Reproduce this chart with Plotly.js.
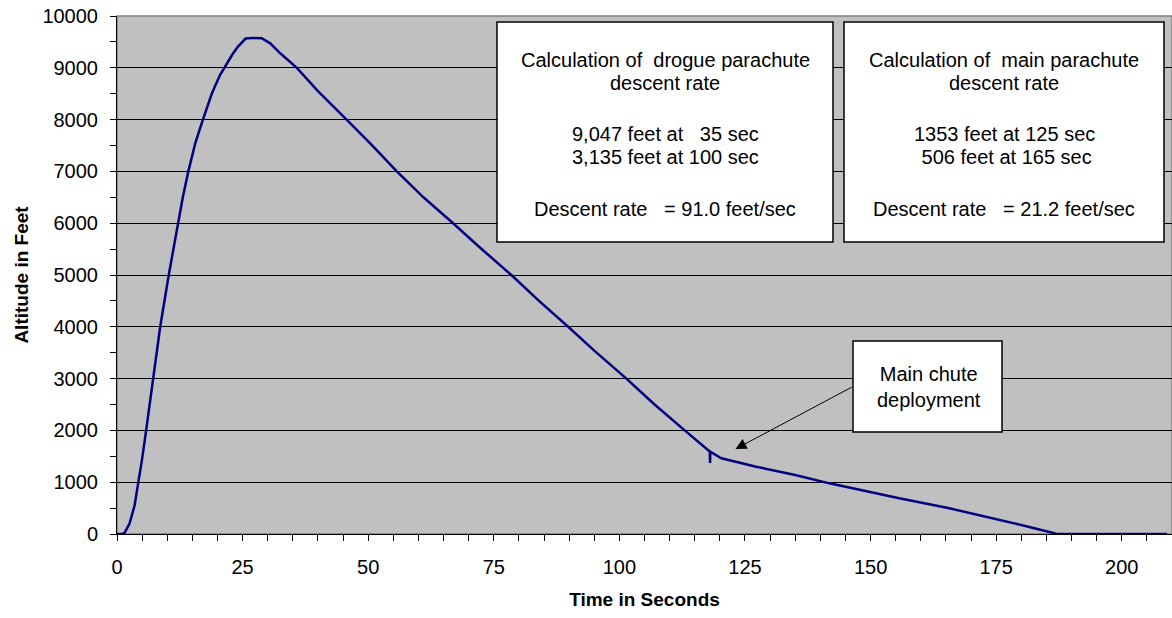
<!DOCTYPE html>
<html>
<head>
<meta charset="utf-8">
<script src="https://cdn.plot.ly/plotly-3.0.1.min.js"></script>
<style>html,body{margin:0;padding:0;background:#fff;}#chart{width:1172px;height:618px;}</style>
</head>
<body>
<div id="chart"></div>
<script>
// Flight data: time (s) and altitude (ft)
const timeSec = [0, 1, 1.5, 2.5, 3.5, 4.3, 5.0, 5.8, 7.2, 8.6, 10.3, 12.1, 13.1, 14.2, 15.6, 17.1, 18.9, 20.5, 21.8, 22.9, 24.0, 24.9, 25.6, 27, 28.8, 30.5, 32.5, 35.8, 40, 45.7, 50.4, 55.7, 61, 66.9, 72, 78.5, 84, 89.8, 95, 101.4, 107, 113.0, 116, 118, 118.05, 118.1, 120.3, 121.9, 125, 127.2, 135, 141.8, 150, 155.7, 165.7, 175, 181, 186.2, 187, 209];
const altitudeFt = [0, 0, 20, 200, 550, 1000, 1450, 2000, 3000, 4000, 5000, 6000, 6500, 7000, 7550, 8000, 8508, 8860, 9080, 9247, 9400, 9504, 9565, 9575, 9570, 9473, 9280, 9000, 8550, 8000, 7542, 7000, 6500, 6000, 5550, 5000, 4500, 4000, 3540, 3000, 2500, 2000, 1760, 1590, 1370, 1590, 1461, 1429, 1353, 1300, 1140, 978, 800, 689, 496, 290, 150, 25, 0, 0];

const xTickVals = [0, 25, 50, 75, 100, 125, 150, 175, 200];
const yTickVals = [0, 1000, 2000, 3000, 4000, 5000, 6000, 7000, 8000, 9000, 10000];

const drogueLines = ["Calculation of\u00A0\u00A0drogue parachute", "descent rate", "9,047 feet at \u00A0\u00A035 sec", "3,135 feet at 100 sec", "Descent rate \u00A0\u00A0= 91.0 feet/sec"];
const mainLines = ["Calculation of\u00A0\u00A0main parachute", "descent rate", "1353 feet at 125 sec", "\u00A0506 feet at 165 sec", "Descent rate \u00A0\u00A0= 21.2 feet/sec"];
const calloutText = "Main chute<br>deployment";
const deployTime = 123.1, deployAlt = 1640;

const FONT = "Arial, 'Liberation Sans', sans-serif";
const FS = 20;

// layout geometry (paper fractions)
const L = 117, T = 16, W = 1055, H = 518;
const px2x = p => (p - L) / W;
const py2y = p => (T + H - p) / H;

const lineY = [60, 83, 134, 157, 209];
const annotations = [];
drogueLines.forEach((t, i) => annotations.push({xref: 'paper', yref: 'paper', x: px2x(665), y: py2y(lineY[i]), text: t, showarrow: false, xanchor: 'center', yanchor: 'middle', font: {family: FONT, size: FS, color: '#000'}}));
mainLines.forEach((t, i) => annotations.push({xref: 'paper', yref: 'paper', x: px2x(1004), y: py2y(lineY[i]), text: t, showarrow: false, xanchor: 'center', yanchor: 'middle', font: {family: FONT, size: FS, color: '#000'}}));
annotations.push({xref: 'paper', yref: 'paper', x: px2x(929), y: py2y(386.5), text: calloutText, showarrow: false, xanchor: 'center', yanchor: 'middle', font: {family: FONT, size: FS, color: '#000'}});
annotations.push({xref: 'x', yref: 'y', x: deployTime, y: deployAlt, text: '', showarrow: true, arrowhead: 2, arrowsize: 2.2, arrowwidth: 1, arrowcolor: '#000', axref: 'pixel', ayref: 'pixel', ax: 117.7, ay: -62.6, standoff: 0});

const shapes = [
  {type: 'rect', xref: 'paper', yref: 'paper', x0: 0, x1: 1, y0: 0, y1: 1, line: {color: '#808080', width: 1.5}, fillcolor: 'rgba(0,0,0,0)', layer: 'below'},
  {type: 'rect', xref: 'paper', yref: 'paper', x0: px2x(497), x1: px2x(833), y0: py2y(242), y1: py2y(22), line: {color: '#000', width: 1.5}, fillcolor: '#fff', layer: 'above'},
  {type: 'rect', xref: 'paper', yref: 'paper', x0: px2x(844), x1: px2x(1164), y0: py2y(242), y1: py2y(22), line: {color: '#000', width: 1.5}, fillcolor: '#fff', layer: 'above'},
  {type: 'rect', xref: 'paper', yref: 'paper', x0: px2x(853), x1: px2x(1002), y0: py2y(432), y1: py2y(341), line: {color: '#000', width: 1.5}, fillcolor: '#fff', layer: 'above'}
];

const trace = {
  x: timeSec, y: altitudeFt, type: 'scatter', mode: 'lines',
  line: {color: '#000080', width: 2.5}, hoverinfo: 'skip'
};

const layout = {
  width: 1172, height: 618,
  margin: {l: L, r: 0, t: T, b: 618 - T - H},
  paper_bgcolor: '#ffffff', plot_bgcolor: '#C0C0C0',
  showlegend: false,
  font: {family: FONT, size: FS, color: '#000'},
  xaxis: {
    range: [0, 210], tickvals: xTickVals, ticktext: xTickVals.map(String),
    showgrid: false, zeroline: false,
    showline: true, linecolor: '#000', linewidth: 1,
    ticks: 'outside', ticklen: 6, tickcolor: '#000', tickwidth: 1,
    ticklabelstandoff: 9,
    minor: {dtick: 5, tick0: 0, ticks: 'outside', ticklen: 6, tickcolor: '#000', showgrid: false},
    tickfont: {family: FONT, size: FS, color: '#000'},
    title: {text: '<b>Time in Seconds</b>', font: {family: FONT, size: 19, color: '#000'}, standoff: 15},
    fixedrange: true
  },
  yaxis: {
    range: [0, 10000], tickvals: yTickVals, ticktext: yTickVals.map(String),
    showgrid: true, gridcolor: '#000', gridwidth: 1, zeroline: false,
    showline: true, linecolor: '#000', linewidth: 1,
    ticks: 'outside', ticklen: 6, tickcolor: '#000', tickwidth: 1,
    ticklabelstandoff: 8,
    minor: {dtick: 500, tick0: 0, ticks: 'outside', ticklen: 6, tickcolor: '#000', showgrid: false},
    tickfont: {family: FONT, size: FS, color: '#000'},
    title: {text: '<b>Altitude in Feet</b>', font: {family: FONT, size: 19, color: '#000'}, standoff: 8},
    fixedrange: true
  },
  shapes: shapes,
  annotations: annotations
};

Plotly.newPlot('chart', [trace], layout, {staticPlot: true, displayModeBar: false});
</script>
</body>
</html>
